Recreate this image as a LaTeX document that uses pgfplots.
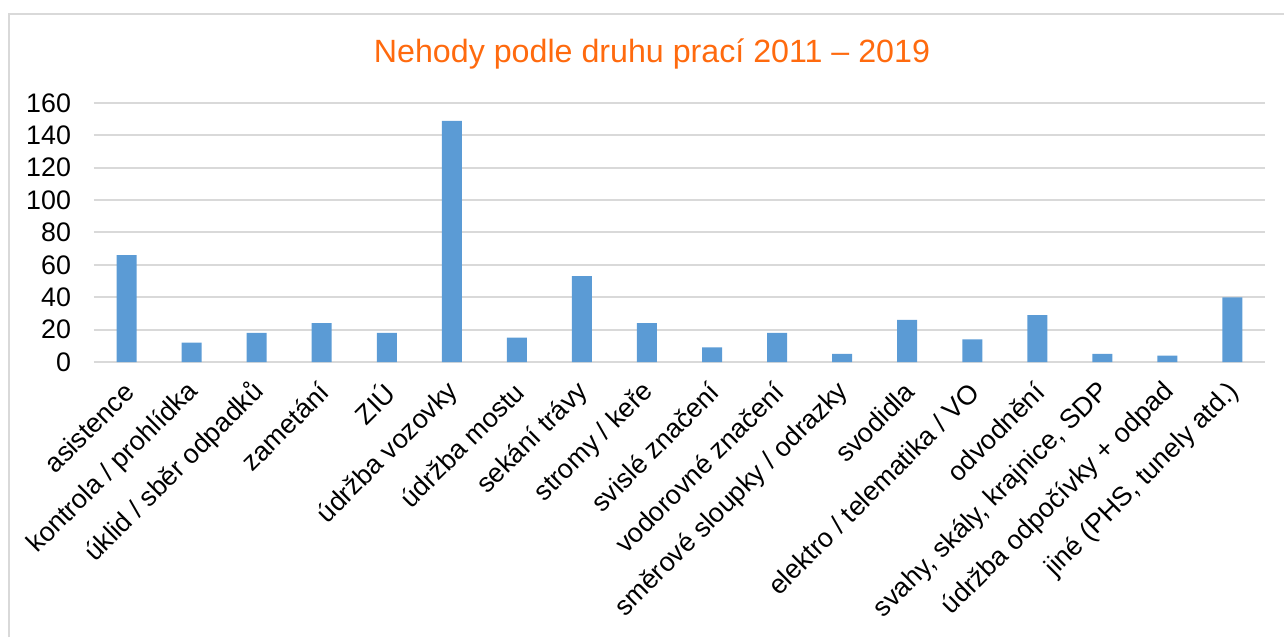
\documentclass[border=0pt]{standalone}
\usepackage{pgfplots}
\pgfplotsset{compat=1.18}
\usepackage{fontspec}
\setmainfont{Liberation Sans}
\definecolor{barblue}{HTML}{5B9BD5}
\definecolor{titleorange}{HTML}{FF6A0E}
\definecolor{gridgray}{HTML}{D9D9D9}
\begin{document}
\begin{tikzpicture}[x=1pt,y=1pt]
\useasboundingbox (0,0) rectangle (642,318.5);
\draw[gridgray, line width=1pt] (4.5,0) -- (4.5,311.5) -- (642,311.5);
\node[anchor=base, text=titleorange, font=\fontsize{16.1}{18}\selectfont] at (326,287) {Nehody podle druhu prací 2011 – 2019};
\begin{axis}[
  at={(47pt,137.5pt)}, anchor=south west,
  scale only axis, width=585.5pt, height=129.5pt,
  xmin=-0.5, xmax=17.5, ymin=0, ymax=160,
  ytick={0,20,...,160},
  xtick={0,...,17},
  xticklabels={asistence, kontrola / prohlídka, úklid / sběr odpadků, zametání, ZIÚ, údržba vozovky, údržba mostu, sekání trávy, stromy / keře, svislé značení, vodorovné značení, směrové sloupky / odrazky, svodidla, elektro / telematika / VO, odvodnění, {svahy, skály, krajnice, SDP}, údržba odpočívky + odpad, {jiné (PHS, tunely atd.)}},
  x tick label style={rotate=45, anchor=east, font=\fontsize{13.4}{15}\selectfont, inner sep=1pt, yshift=-9.9pt, xshift=-7.05pt},
  y tick label style={font=\fontsize{13.4}{15}\selectfont, xshift=-8pt},
  /pgf/number format/assume math mode=true,
  axis line style={draw=none},
  major tick length=0pt,
  ymajorgrids, grid style={gridgray, line width=1pt},
  ybar, bar width=10pt,
  clip=false,
]
\addplot[fill=barblue, draw=none] coordinates {
(0,66) (1,12) (2,18) (3,24) (4,18) (5,149) (6,15) (7,53) (8,24) (9,9) (10,18) (11,5) (12,26) (13,14) (14,29) (15,5) (16,4) (17,40)
};
\end{axis}
\end{tikzpicture}
\end{document}
